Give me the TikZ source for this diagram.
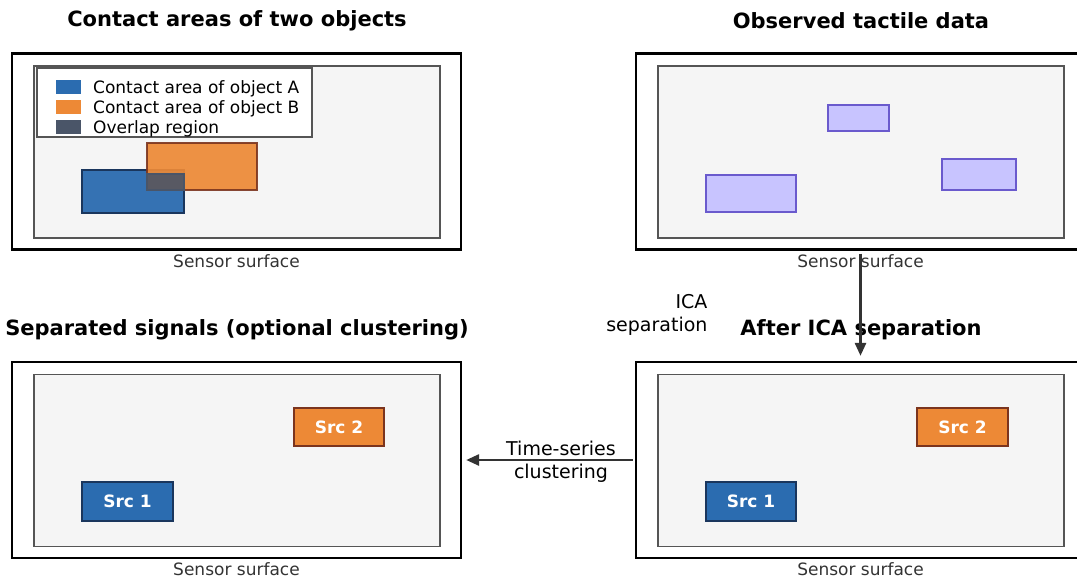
\documentclass[tikz,border=0pt]{standalone}
\usepackage{fontspec}
\setmainfont{DejaVu Sans}
\usepackage{xcolor}
\usepackage{tikz}
\usetikzlibrary{arrows.meta,positioning}

\definecolor{panelgray}{HTML}{F5F5F5}
\definecolor{frameedge}{HTML}{555555}
\definecolor{srcblue}{HTML}{2B6CB0}
\definecolor{srcblueedge}{HTML}{1A365D}
\definecolor{srcorange}{HTML}{ED8936}
\definecolor{srcorangeedge}{HTML}{7B341E}
\definecolor{overlapgray}{HTML}{4A5568}
\definecolor{obsfill}{HTML}{C8C4FF}
\definecolor{obsedge}{HTML}{6A5ACD}
\definecolor{darktext}{HTML}{333333}

\begin{document}
\begin{tikzpicture}[
    x=1pt, y=-1pt,
    outerbox/.style={draw=black, line width=2.3pt, inner sep=0pt,
                     minimum width=449pt, minimum height=196pt},
    innerbox/.style={draw=frameedge, line width=1.3pt, fill=panelgray, inner sep=0pt,
                     minimum width=406pt, minimum height=172pt},
    patch/.style={inner sep=0pt, line width=1.2pt},
    srcbox/.style={patch, font=\fontsize{17}{20}\selectfont\bfseries, text=white},
    ttl/.style={font=\fontsize{21}{24}\selectfont\bfseries, yshift=-2pt},
    sens/.style={font=\fontsize{17}{20}\selectfont, text=darktext},
    lbl/.style={font=\fontsize{19}{23}\selectfont, yshift=-2pt},
    arr/.style={-{Triangle[length=13pt,width=11pt]}, line width=2.7pt, draw=darktext},
    legtxt/.style={font=\fontsize{17}{20}\selectfont, anchor=west, inner sep=0pt, yshift=-1.5pt}
]
\useasboundingbox (0,0) rectangle (1077,581);

% four panels: frame, sensor surface, caption below
\foreach \nm/\cx/\cy in {tl/236.5/151.5, tr/860.5/151.5, bl/236.5/460, br/860.5/460} {
  \node[outerbox] (\nm) at (\cx,\cy) {};
  \node[innerbox] (\nm in) at (\cx+0.5,\cy+0.5) {};
  \node[sens] (\nm cap) at (\cx,\cy+109.5) {Sensor surface};
}

\node[ttl] (tlttl) at (237,19) {Contact areas of two objects};
\node[ttl] (trttl) at (861,19) {Observed tactile data};
\node[ttl] (blttl) at (237,328) {Separated signals (optional clustering)};
\node[ttl] (brttl) at (861,328) {After ICA separation};

% contact areas
\node[patch, draw=srcblueedge, fill=srcblue, fill opacity=0.95,
      minimum width=102pt, minimum height=43pt] (areaA) at (133,191.5) {};
\node[patch, draw=srcorangeedge, fill=srcorange, fill opacity=0.92, draw opacity=0.9,
      minimum width=110pt, minimum height=47pt] (areaB) at (202,166.5) {};
\node[patch, draw=overlapgray, fill=overlapgray, fill opacity=0.9,
      minimum width=37pt, minimum height=16pt] (overlap) at (165.5,182) {};

% legend
\node[draw=frameedge, line width=1.2pt, fill=white, inner sep=0pt,
      minimum width=275pt, minimum height=69pt] (legend) at (174.5,102.5) {};
\node[patch, fill=srcblue, minimum width=25pt, minimum height=14pt] (keyA) at (68.5,87) {};
\node[patch, fill=srcorange, minimum width=25pt, minimum height=14pt] (keyB) at (68.5,107) {};
\node[patch, fill=overlapgray, minimum width=25pt, minimum height=14pt] (keyO) at (68.5,127) {};
\node[legtxt] (txtA) at (93,87) {Contact area of object A};
\node[legtxt] (txtB) at (93,107) {Contact area of object B};
\node[legtxt] (txtO) at (93,127) {Overlap region};

% observed (mixed) patches
\node[patch, draw=obsedge, fill=obsfill, minimum width=90pt, minimum height=37pt] (obs1) at (751,193.5) {};
\node[patch, draw=obsedge, fill=obsfill, minimum width=61pt, minimum height=26pt] (obs2) at (858.5,118) {};
\node[patch, draw=obsedge, fill=obsfill, minimum width=74pt, minimum height=31pt] (obs3) at (979,174.5) {};

% separated sources
\node[srcbox, draw=srcblueedge, fill=srcblue, minimum width=91pt, minimum height=39pt] (bls1) at (127.5,501.5) {Src 1};
\node[srcbox, draw=srcorangeedge, fill=srcorange, minimum width=90pt, minimum height=38pt] (bls2) at (339,427) {Src 2};
\node[srcbox, draw=srcblueedge, fill=srcblue, minimum width=90pt, minimum height=39pt] (brs1) at (751,501.5) {Src 1};
\node[srcbox, draw=srcorangeedge, fill=srcorange, minimum width=91pt, minimum height=38pt] (brs2) at (962.5,427) {Src 2};

% processing steps
\draw[arr, shorten <=3pt, shorten >=5pt] (tr.south) -- (br.north);
\node[lbl, align=right, anchor=east] (ica) at (711,312.5) {ICA\\separation};
\draw[arr, shorten <=2pt, shorten >=4pt] (br.west) -- (bl.east);
\node[lbl, align=center] (clus) at (561,460) {Time-series\\clustering};
\end{tikzpicture}
\end{document}
